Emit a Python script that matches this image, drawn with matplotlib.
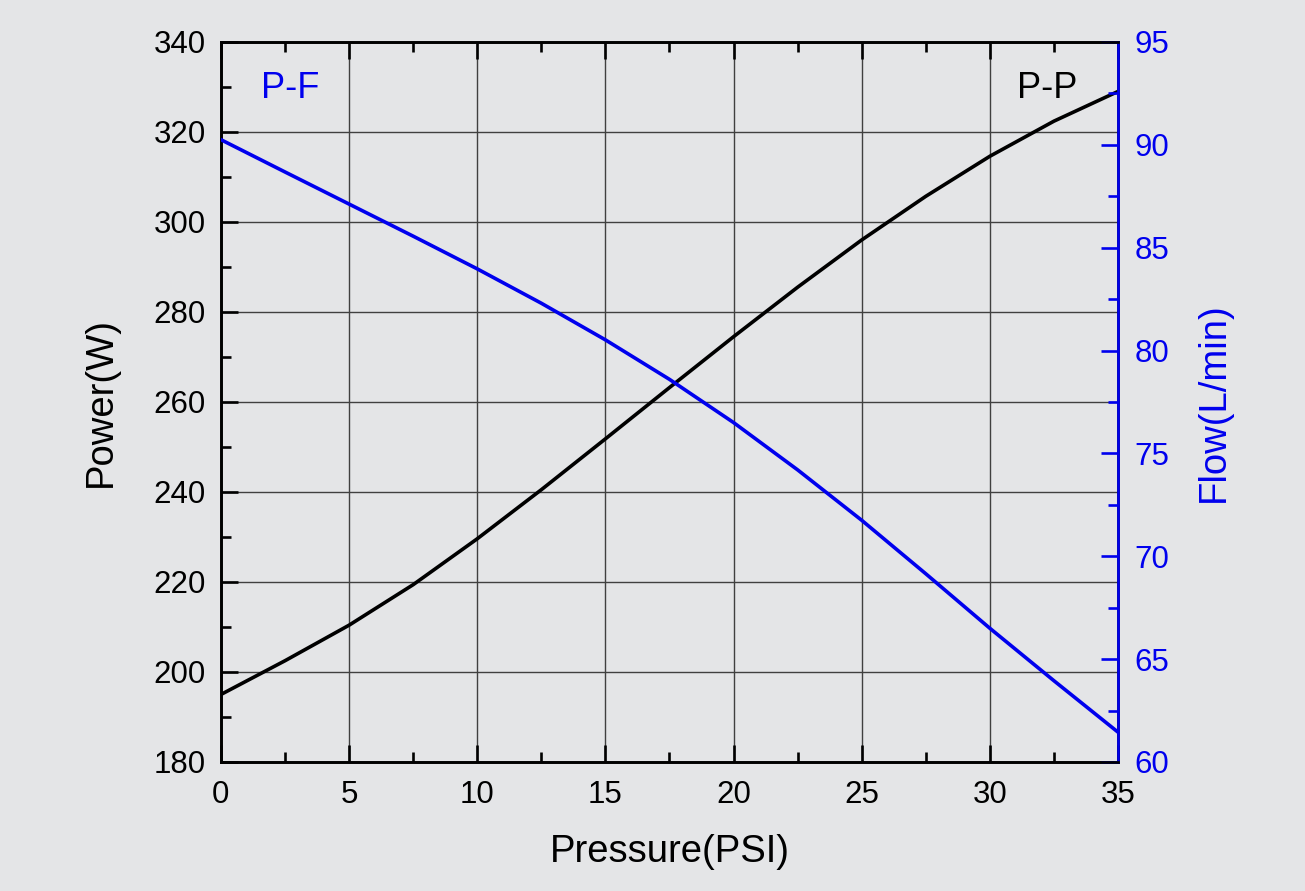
import numpy as np
import matplotlib.pyplot as plt
from matplotlib.ticker import MultipleLocator

plt.rcParams['font.family'] = ['Liberation Sans', 'DejaVu Sans']

# values
pressure = [0, 2.5, 5, 7.5, 10, 12.5, 15, 17.5, 20, 22.5, 25, 27.5, 30, 32.5, 35]
power = [195.0, 202.5, 210.4, 219.4, 229.6, 240.5, 251.8, 263.2, 274.5, 285.5,
         296.0, 305.7, 314.6, 322.4, 329.0]
flow = [90.25, 88.68, 87.12, 85.56, 83.97, 82.3, 80.52, 78.6, 76.5, 74.2,
        71.75, 69.15, 66.5, 63.95, 61.45]

bg = '#e4e5e7'
blue = '#0000ee'

fig = plt.figure(figsize=(13.05, 8.91), dpi=100, facecolor=bg)
ax = fig.add_axes([0.1693, 0.1448, 0.6874, 0.8081], facecolor=bg)
ax2 = ax.twinx()

ax.plot(pressure, power, color='black', lw=2.6, zorder=3)
ax2.plot(pressure, flow, color=blue, lw=2.6, zorder=3)

ax.set_xlim(0, 35)
ax.set_ylim(180, 340)
ax2.set_ylim(60, 95)

ax.xaxis.set_major_locator(MultipleLocator(5))
ax.xaxis.set_minor_locator(MultipleLocator(2.5))
ax.yaxis.set_major_locator(MultipleLocator(20))
ax.yaxis.set_minor_locator(MultipleLocator(10))
ax2.yaxis.set_major_locator(MultipleLocator(5))
ax2.yaxis.set_minor_locator(MultipleLocator(2.5))

ax.grid(True, which='major', color='#404040', lw=1.0)
ax.set_axisbelow(True)

for s in ax.spines.values():
    s.set_linewidth(1.9)
for s in ax2.spines.values():
    s.set_linewidth(1.9)
ax2.spines['right'].set_color(blue)

ax.tick_params(axis='x', which='both', direction='in', top=True, labelsize=22.5,
               pad=13, width=1.9)
ax.tick_params(axis='y', which='both', direction='in', right=False, labelsize=22.5,
               pad=11, width=1.9)
ax.tick_params(which='major', length=12)
ax.tick_params(which='minor', length=7)
ax2.tick_params(axis='y', which='both', direction='in', colors=blue, labelsize=22.5,
                pad=12, width=1.9)
ax2.tick_params(which='major', length=12)
ax2.tick_params(which='minor', length=7)

ax.set_xlabel('Pressure(PSI)', fontsize=27.5, labelpad=17)
ax.set_ylabel('Power(W)', fontsize=27.5, labelpad=25)
ax2.set_ylabel('Flow(L/min)', fontsize=27.5, color=blue, labelpad=19)

ax.text(0.045, 0.935, 'P-F', transform=ax.transAxes, fontsize=26, color=blue,
        va='center', ha='left')
ax.text(0.955, 0.935, 'P-P', transform=ax.transAxes, fontsize=26, color='black',
        va='center', ha='right')

fig.savefig('out.png', dpi=100, facecolor=bg)
